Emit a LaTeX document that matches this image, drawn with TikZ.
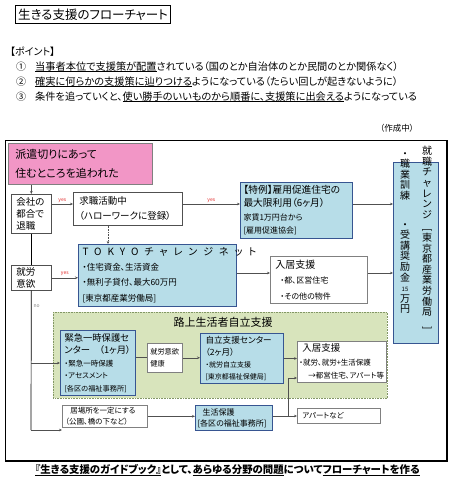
\documentclass[tikz,border=0pt]{standalone}
\usepackage{fontspec}
\setmainfont{Noto Sans CJK JP}[RawFeature=+palt]
\usetikzlibrary{arrows.meta,calc}
\definecolor{pinkfill}{RGB}{242,150,198}
\definecolor{bluefill}{RGB}{183,221,232}
\definecolor{blueline}{RGB}{55,85,145}
\definecolor{greenfill}{RGB}{216,228,188}
\definecolor{greenline}{RGB}{130,150,100}
\definecolor{linegray}{RGB}{80,80,80}
\definecolor{yesred}{RGB}{225,40,40}
\newcommand\fs[2]{\fontsize{#1}{#2}\selectfont}
\newcommand\myul[1]{\setbox0\hbox{#1}\rlap{\rule[-1.8pt]{\wd0}{0.8pt}}\box0}
\begin{document}
\begin{tikzpicture}[x=1pt,y=-1pt,
  bx/.style={draw=linegray, line width=0.6pt, rectangle, anchor=north west, align=left, inner xsep=0pt, inner ysep=0pt, text=black},
  bluebx/.style={bx, fill=bluefill, draw=blueline, line width=1pt},
  whitebx/.style={bx, fill=white, draw=gray},
  arr/.style={-{Stealth[length=3pt,width=2.6pt]}, draw=linegray, line width=0.6pt},
  ln/.style={draw=black, line width=0.7pt},
  yeslab/.style={font=\fs{5}{5}, text=yesred, inner sep=1.5pt},
  nolab/.style={font=\fs{5}{5}, text=gray, inner sep=2pt},
  vtext/.style={align=center, inner sep=0pt, anchor=north},
  txt/.style={inner sep=0pt}]
\useasboundingbox (0,0) rectangle (450,484);
% title
\node[draw=black, line width=1.1pt, anchor=north west, minimum width=155pt, minimum height=18pt, inner sep=0pt, font=\fs{12.5}{12.5}] (title) at (15,5) {生きる支援のフローチャート};
\node[txt, anchor=west, font=\fs{10}{10}] (point) at (10,52) {【ポイント】};
\node[txt, anchor=west, font=\fs{10}{10}] (n1) at (16,67) {①};
\node[txt, anchor=west, font=\fs{10}{10}] (n2) at (16,82) {②};
\node[txt, anchor=west, font=\fs{10}{10}] (n3) at (16,97) {③};
\node[txt, anchor=west, font=\fs{10.2}{10}] (p1) at (35,67) {\myul{当事者本位で支援策が配置}されている（国のとか自治体のとか民間のとか関係なく）};
\node[txt, anchor=west, font=\fs{10.2}{10}] (p2) at (35,82) {\myul{確実に何らかの支援策に辿りつける}ようになっている（たらい回しが起きないように）};
\node[txt, anchor=west, font=\fs{10.2}{10}] (p3) at (35,97) {条件を追っていくと、\myul{使い勝手のいいものから順番に、支援策に出会える}ようになっている};
\node[txt, font=\fs{8.5}{9}] (sakusei) at (397,128) {（作成中）};
% outer frame
\draw[line width=0.8pt] (5,140) rectangle (447,461);
\draw[line width=1.8pt] (447,140) -- (447,461) -- (5,461);
% pink
\node[bx, fill=pinkfill, draw=gray, minimum width=144pt, minimum height=41pt, text width=130pt, font=\fs{11}{19}] (pink) at (8,143) {派遣切りにあって\\住むところを追われた};
% left column
\node[bx, fill=white, minimum width=40pt, minimum height=39pt, text width=30pt, font=\fs{9.5}{12}] (kaisha) at (11,194) {会社の\\都合で\\退職};
\node[bx, fill=white, minimum width=40pt, minimum height=25pt, text width=30pt, font=\fs{9.5}{11.5}] (shuro) at (11,265) {就労\\意欲};
% kyushoku
\node[bx, fill=white, minimum width=109pt, minimum height=33pt, text width=97pt, font=\fs{9.5}{15}] (kyushoku) at (73,192) {求職活動中\\（ハローワークに登録）};
% tokurei
\node[bluebx, minimum width=112pt, minimum height=56pt, text width=106pt, font=\fs{9.7}{13}] (tokurei) at (240,182) {【特例】雇用促進住宅の\\最大限利用（6ヶ月）\\[1pt]{\fs{8}{14}家賃1万円台から}\\{\fs{8}{14}[雇用促進協会]}};
% challenge (vertical)
\node[bluebx, minimum width=45pt, minimum height=181pt] (chal) at (393,162) {};
\node[vtext, font=\fs{10}{10.6}] (chalR) at (427,146) {就\\職\\チ\\ャ\\レ\\ン\\ジ\\\rotatebox{-90}{[}\\東\\京\\都\\産\\業\\労\\働\\局\\\rotatebox{-90}{]}};
\node[vtext, font=\fs{10}{10.6}] (chalL1) at (405,152) {・\\職\\業\\訓\\練};
\node[vtext, font=\fs{10}{10.6}] (chalL2) at (405,223) {・\\受\\講\\奨\\励\\金\\{\fs{6}{10.6}15}\\万\\円};
% tokyo
\node[bluebx, minimum width=158pt, minimum height=62pt, text width=150pt, font=\fs{8.5}{15}] (tokyo) at (78,244) {{\fs{10}{14}\addfontfeatures{LetterSpace=60}TOKYOチャレンジネット}\\・住宅資金、生活資金\\・無利子貸付、最大60万円\\[1pt]{[}東京都産業労働局]};
% nyukyo 1
\node[whitebx, minimum width=97pt, minimum height=47pt, text width=87pt, font=\fs{8}{15.5}] (nyukyo1) at (270,256) {{\fs{10}{15.5}入居支援}\\\hspace*{5pt}・都、区営住宅\\\hspace*{5pt}・その他の物件};
% green region
\node[bx, fill=greenfill, draw=greenline, densely dotted, line width=0.8pt, minimum width=334pt, minimum height=86pt] (green) at (53,312) {};
\node[txt, font=\fs{11}{11}] (routetitle) at (223,322) {路上生活者自立支援};
\node[bluebx, minimum width=75pt, minimum height=65pt, text width=67pt, font=\fs{7.5}{12.5}] (kinkyu) at (60,330) {{\fs{9.3}{12.5}緊急一時保護セ}\\{\fs{9.3}{12.5}ンター　（1ヶ月）}\\・緊急一時保護\\・アセスメント\\{\fs{7.2}{12.5}[各区の福祉事務所]}};
\node[whitebx, minimum width=35pt, minimum height=29pt, text width=29pt, font=\fs{7.2}{12}] (kenko) at (147,343) {就労意欲\\健康};
\node[bluebx, minimum width=83pt, minimum height=50pt, text width=73pt, font=\fs{7}{12.3}] (jiritsu) at (200,333) {{\fs{8.6}{12.3}自立支援センター}\\{\fs{8.6}{12.3}（2ヶ月）}\\・就労自立支援\\{[}東京都福祉保健局]};
\node[whitebx, minimum width=89pt, minimum height=41pt, text width=85pt, font=\fs{7.5}{13.5}] (nyukyo2) at (297,341) {{\fs{9.5}{13.5}\hspace*{3pt}入居支援}\\・就労、就労+生活保護\\\hspace*{9pt}→都営住宅、アパート等};
% bottom boxes
\node[whitebx, minimum width=85pt, minimum height=22pt, text width=79pt, font=\fs{7.5}{11}] (ibasho) at (62,405) {\hspace*{5pt}居場所を一定にする\\（公園、橋の下など）};
\node[bluebx, minimum width=77pt, minimum height=25pt, text width=73pt, font=\fs{8}{11}] (seiho) at (195,405) {\hspace*{5pt}生活保護\\{[}各区の福祉事務所]};
\node[whitebx, minimum width=83pt, minimum height=15pt, text width=73pt, font=\fs{7.5}{10}] (apart) at (297,408) {アパートなど};
% footer
\node[txt, anchor=west, font=\fs{10.4}{10}\bfseries] (footer) at (35,470) {\myul{『生きる支援のガイドブック』}として、\myul{あらゆる分野の問題}について\myul{フローチャートを作る}};
% connectors
\coordinate (c204) at (0,204);
\coordinate (c108) at (108,0);
\coordinate (c273) at (0,273);
\coordinate (bl) at (31,430);
\coordinate (br) at (288,416);
\coordinate (c378) at (0,378);
\draw[arr] (pink.south -| kaisha.north) -- (kaisha.north);
\draw[arr] (kaisha.east |- c204) -- node[yeslab, above]{yes} (kyushoku.west |- c204);
\draw[arr] (kyushoku.east |- c204) -- node[yeslab, above]{yes} (tokurei.west |- c204);
\draw[arr] (tokurei.east |- c204) -- (chal.west |- c204);
\draw[arr, densely dotted] (kyushoku.south -| c108) -- (tokyo.north -| c108);
\draw[ln] (kaisha.south) -- (shuro.north);
\draw[arr] (shuro.east) -- node[yeslab, above]{yes} (shuro.east -| tokyo.west);
\draw[arr] (tokyo.east |- c273) -- (nyukyo1.west |- c273);
\draw[arr] (nyukyo1.east |- c273) -- (chal.west |- c273);
\draw[ln] (shuro.south) -- node[pos=0.11, right, nolab]{no} (bl);
\draw[arr] (shuro.south |- kinkyu.west) -- (kinkyu.west);
\draw[arr] (bl) -- (ibasho.west |- bl);
\draw[ln, draw=linegray] (kinkyu.east |- kenko.west) -- (kenko.west);
\draw[arr] (kenko.east) -- (jiritsu.west |- kenko.east);
\draw[arr] (jiritsu.east) -- (nyukyo2.west |- jiritsu.east);
\draw[arr] (ibasho.east) -- (seiho.west |- ibasho.east);
\draw[ln, draw=linegray] (seiho.east |- br) -- (br);
\draw[arr] (br) -- (apart.west |- br);
\draw[arr] (br) -- (br |- c378) -- (nyukyo2.west |- c378);
\end{tikzpicture}
\end{document}
